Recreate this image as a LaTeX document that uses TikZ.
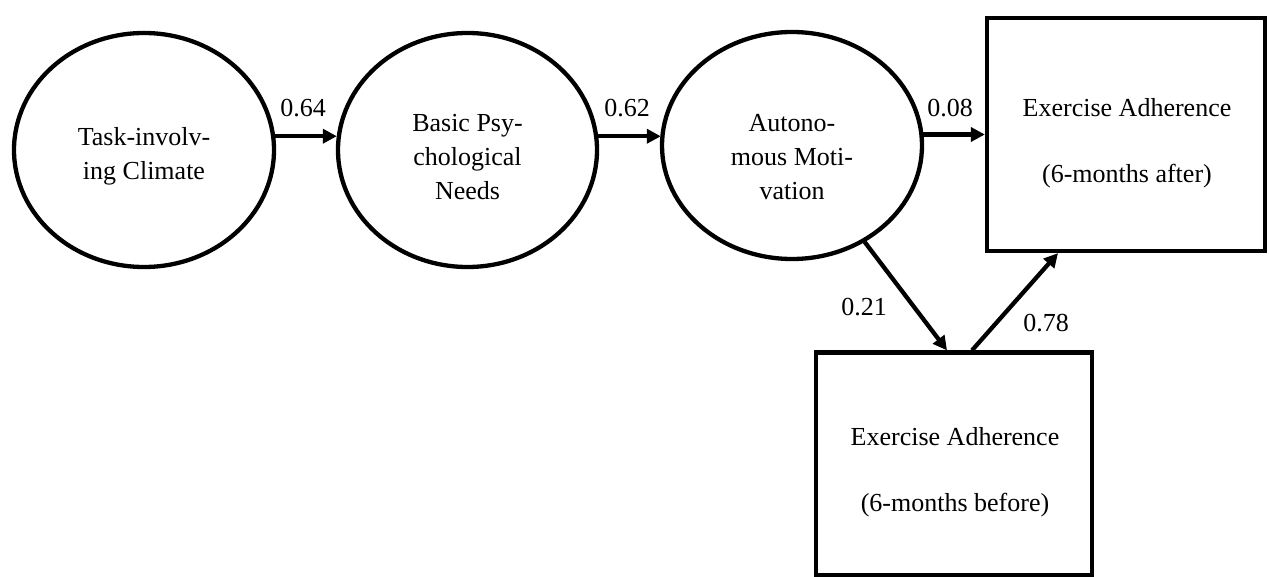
\documentclass[tikz,border=0pt]{standalone}
\usepackage{fontspec}
\setmainfont{Liberation Serif}
\usetikzlibrary{shapes.geometric,arrows.meta}
\begin{document}
\begin{tikzpicture}[x=1pt,y=-1pt,
 lat/.style={ellipse,draw,line width=4.3pt,inner sep=0pt},
 obs/.style={rectangle,draw,line width=4.3pt,inner sep=0pt},
 txt/.style={align=center,font=\fontsize{26}{34}\selectfont,inner sep=0pt},
 coef/.style={font=\fontsize{26}{30}\selectfont,inner sep=0pt},
 arr/.style={line width=4.3pt,-{Triangle[length=14pt,width=14pt]}}]
\useasboundingbox (0,0) rectangle (1269,577);
% latent variables
\node[lat,minimum width=260pt,minimum height=234pt] (c1) at (144,150) {};
\node[lat,minimum width=259pt,minimum height=234pt] (c2) at (467.5,150) {};
\node[lat,minimum width=260pt,minimum height=227pt] (c3) at (792,145.5) {};
% observed variables
\node[obs,minimum width=278pt,minimum height=233pt] (b1) at (1126,134.5) {};
\node[obs,minimum width=276pt,minimum height=223pt] (b2) at (954,464) {};
% texts
\node[txt] (t1) at (144,156) {Task-involv-\\ing Climate};
\node[txt] (t2) at (467.5,157) {Basic Psy-\\chological\\Needs};
\node[txt] (t3) at (792,157) {Autono-\\mous Moti-\\vation};
\node[txt] (t4) at (1127,143) {Exercise Adherence\\[32pt](6-months after)};
\node[txt] (t5) at (955,472) {Exercise Adherence\\[32pt](6-months before)};
% connectors
\draw[arr] (c1.6.5) -- ([xshift=1pt]c1.6.5 -| c2.west);
\draw[arr] (c2.6.5) -- ([xshift=1pt]c2.6.5 -| c3.west);
\draw[arr] ([xshift=-2pt]b1.west -| c3.east) -- (b1.west);
\draw[arr] (c3.-53) -- ([xshift=-7pt]b2.north);
\draw[arr] ([xshift=18pt]b2.north) -- ([xshift=-68pt]b1.south);
% coefficients
\node[coef] (l1) at (303,108) {0.64};
\node[coef] (l2) at (627,108) {0.62};
\node[coef] (l3) at (950,108) {0.08};
\node[coef] (l4) at (864,307) {0.21};
\node[coef] (l5) at (1046,323) {0.78};
\end{tikzpicture}
\end{document}
